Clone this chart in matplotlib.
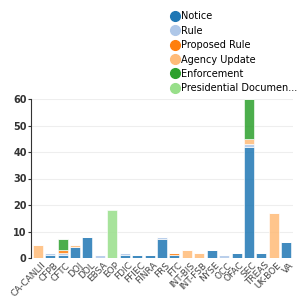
import numpy as np
import matplotlib.pyplot as plt
from matplotlib.lines import Line2D

agencies = ["CA-CANLII", "CFPB", "CFTC", "DOJ", "DOL", "EBSA", "EOP", "FDIC", "FFIEC", "FINRA",
            "FRS", "FTC", "INT-BIS", "INT-FSB", "NYSE", "OCC", "OFAC", "SEC", "TREAS", "UK-BOE", "VA"]

notice        = [0, 1, 1, 4, 8, 0, 0, 1, 1, 1, 7, 1, 0, 0, 3, 0, 2, 42, 2, 0, 6]
rule          = [0, 1, 1, 0, 0, 1, 0, 1, 0, 0, 1, 0, 0, 0, 0, 1, 0, 1, 0, 0, 0]
proposed_rule = [0, 0, 1, 0, 0, 0, 0, 0, 0, 0, 0, 1, 0, 0, 0, 0, 0, 0, 0, 0, 0]
agency_update = [5, 0, 0, 1, 0, 0, 0, 0, 0, 0, 0, 0, 3, 2, 0, 0, 0, 2, 0, 17, 0]
enforcement   = [0, 0, 4, 0, 0, 0, 0, 0, 0, 0, 0, 0, 0, 0, 0, 0, 0, 15, 0, 0, 0]
presidential  = [0, 0, 0, 0, 0, 0, 18, 0, 0, 0, 0, 0, 0, 0, 0, 0, 0, 0, 0, 0, 0]

series = [("Notice", notice, "#1f77b4"),
          ("Rule", rule, "#aec7e8"),
          ("Proposed Rule", proposed_rule, "#ff7f0e"),
          ("Agency Update", agency_update, "#ffbb78"),
          ("Enforcement", enforcement, "#2ca02c"),
          ("Presidential Documen...", presidential, "#98df8a")]

fig = plt.figure(figsize=(3, 3), dpi=100)
ax = fig.add_axes([0.103, 0.14, 0.874, 0.53])

x = np.arange(len(agencies))
bottom = np.zeros(len(agencies))
for name, vals, col in series:
    vals = np.array(vals, dtype=float)
    ax.bar(x, vals, 0.8, bottom=bottom, color=col, alpha=0.85,
           edgecolor="white", linewidth=0.5)
    bottom += vals

ax.set_ylim(0, 60)
ax.set_xlim(-0.55, len(agencies) - 0.45)
ax.set_yticks([0, 10, 20, 30, 40, 50, 60])
ax.yaxis.grid(True, color="#eeeeee", linewidth=0.8)
ax.set_axisbelow(True)
for s in ["top", "right", "bottom"]:
    ax.spines[s].set_visible(False)
ax.spines["left"].set_color("#333333")
ax.tick_params(axis="y", length=2, labelsize=7, colors="#333333", pad=1)
ax.tick_params(axis="x", length=0, labelsize=6.5, colors="#444444", pad=2)
for lbl in ax.get_yticklabels():
    lbl.set_fontweight("bold")
ax.set_xticks(x + 0.25)
ax.set_xticklabels(agencies, rotation=45, ha="right", rotation_mode="anchor")

handles = [Line2D([], [], marker="o", linestyle="none", markersize=7,
                  markerfacecolor=c, markeredgecolor=c) for _, _, c in series]
fig.legend(handles, [n for n, _, _ in series], loc="upper left",
           bbox_to_anchor=(0.555, 0.975), frameon=False, fontsize=7,
           handletextpad=0.05, labelspacing=0.45, borderaxespad=0,
           handlelength=1.0)

fig.savefig("out.png", dpi=100)
